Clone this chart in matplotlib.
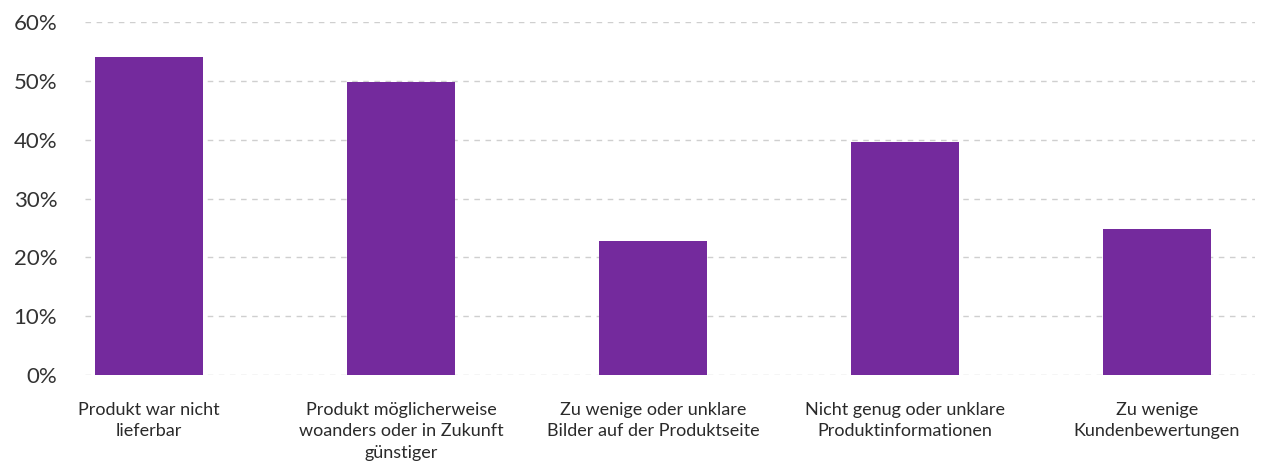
import matplotlib
matplotlib.use("Agg")
import matplotlib.pyplot as plt
from matplotlib.ticker import PercentFormatter

categories = [
    "Produkt war nicht\nlieferbar",
    "Produkt möglicherweise\nwoanders oder in Zukunft\ngünstiger",
    "Zu wenige oder unklare\nBilder auf der Produktseite",
    "Nicht genug oder unklare\nProduktinformationen",
    "Zu wenige\nKundenbewertungen",
]
values = [54.1, 49.8, 22.8, 39.6, 24.8]
y_ticks = [0, 10, 20, 30, 40, 50, 60]

plt.rcParams["font.family"] = ["Lato", "DejaVu Sans"]

fig = plt.figure(figsize=(12.68, 4.61), dpi=100)
ax = fig.add_axes([0.067, 0.1866, 0.9227, 0.7654])

x = list(range(len(categories)))
ax.bar(x, values, width=0.43, color="#742A9D", zorder=3)

ax.set_xlim(-0.254, 4.39)
ax.set_ylim(0, 60)
ax.set_yticks(y_ticks)
ax.yaxis.set_major_formatter(PercentFormatter(decimals=0))
ax.grid(axis="y", color="#cfcfcf", linestyle=(0, (4, 4)), linewidth=1, zorder=0)
ax.set_axisbelow(True)
for s in ax.spines.values():
    s.set_visible(False)

ax.tick_params(axis="y", length=0, pad=20, labelsize=16, labelcolor="#333333")
ax.tick_params(axis="x", length=0, pad=0)
ax.set_xticks(x)
ax.set_xticklabels([])
for xi, lab in zip(x, categories):
    ax.annotate(lab, xy=(xi, 0), xycoords="data", xytext=(0, -27),
                textcoords="offset pixels",
                ha="center", va="top", fontsize=13, color="#2a2a2a",
                linespacing=1.42, annotation_clip=False)

fig.savefig("out.png", dpi=100)
